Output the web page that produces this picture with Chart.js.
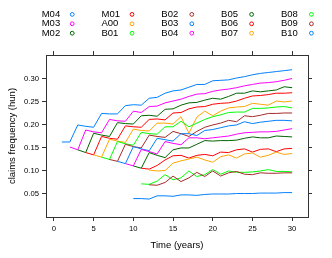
<!DOCTYPE html>
<html>
<head>
<meta charset="utf-8">
<script src="https://cdn.jsdelivr.net/npm/chart.js@4.4.0/dist/chart.umd.min.js"></script>
<style>
  html, body { margin: 0; padding: 0; background: #fff; }
  #wrap { width: 332px; height: 258px; }
</style>
</head>
<body>
<div id="wrap"><canvas id="freqChart" width="332" height="258"></canvas></div>
<script>
// bonus-malus classes, in legend order
const classes = ["M04", "M03", "M02", "M01", "A00", "B01", "B02", "B03",
                 "B04", "B05", "B06", "B07", "B08", "B09", "B10"];
// first year each class appears on the chart
const startYears = [1, 2, 3, 4, 5, 6, 7, 8, 9, 10, 11, 12, 11, 12, 10];

// claims frequency per year, from the start year up to year 30
const m04 = [0.163, 0.163, 0.200, 0.197, 0.195, 0.225, 0.224, 0.224, 0.242, 0.244, 0.243, 0.258, 0.260, 0.269, 0.274, 0.276, 0.282, 0.288, 0.288, 0.296, 0.297, 0.298, 0.302, 0.305, 0.309, 0.312, 0.314, 0.316, 0.318, 0.320];
const m03 = [0.152, 0.146, 0.189, 0.185, 0.183, 0.212, 0.209, 0.208, 0.230, 0.227, 0.240, 0.241, 0.248, 0.252, 0.256, 0.262, 0.267, 0.268, 0.273, 0.276, 0.278, 0.281, 0.285, 0.288, 0.291, 0.292, 0.294, 0.297, 0.301];
const m02 = [0.146, 0.140, 0.182, 0.178, 0.175, 0.205, 0.203, 0.202, 0.220, 0.221, 0.219, 0.234, 0.235, 0.243, 0.248, 0.249, 0.254, 0.258, 0.256, 0.262, 0.269, 0.269, 0.274, 0.272, 0.274, 0.276, 0.283, 0.281];
const m01 = [0.140, 0.135, 0.175, 0.171, 0.169, 0.198, 0.196, 0.195, 0.212, 0.213, 0.211, 0.226, 0.227, 0.235, 0.239, 0.240, 0.245, 0.247, 0.248, 0.252, 0.258, 0.263, 0.264, 0.266, 0.269, 0.269, 0.270];
const a00 = [0.135, 0.130, 0.169, 0.165, 0.162, 0.191, 0.188, 0.187, 0.204, 0.204, 0.202, 0.218, 0.182, 0.217, 0.230, 0.220, 0.230, 0.237, 0.239, 0.240, 0.247, 0.245, 0.243, 0.252, 0.250, 0.252];
const b01 = [0.130, 0.125, 0.164, 0.159, 0.156, 0.184, 0.181, 0.180, 0.196, 0.196, 0.208, 0.196, 0.204, 0.212, 0.218, 0.222, 0.227, 0.228, 0.228, 0.236, 0.236, 0.237, 0.239, 0.240, 0.237];
const b02 = [0.125, 0.121, 0.158, 0.153, 0.150, 0.178, 0.175, 0.173, 0.186, 0.181, 0.175, 0.186, 0.195, 0.200, 0.204, 0.210, 0.207, 0.220, 0.218, 0.221, 0.225, 0.225, 0.226, 0.226];
const b03 = [0.121, 0.116, 0.153, 0.148, 0.144, 0.171, 0.168, 0.165, 0.181, 0.181, 0.177, 0.188, 0.190, 0.194, 0.198, 0.200, 0.207, 0.203, 0.206, 0.208, 0.210, 0.210, 0.209];
const b04 = [0.116, 0.111, 0.147, 0.142, 0.137, 0.164, 0.160, 0.157, 0.172, 0.172, 0.170, 0.172, 0.174, 0.176, 0.180, 0.183, 0.184, 0.185, 0.185, 0.186, 0.189, 0.192];
const b05 = [0.111, 0.106, 0.140, 0.134, 0.129, 0.146, 0.150, 0.150, 0.158, 0.166, 0.165, 0.166, 0.166, 0.167, 0.171, 0.174, 0.172, 0.172, 0.176, 0.175, 0.174];
const b06 = [0.106, 0.104, 0.112, 0.124, 0.133, 0.134, 0.128, 0.134, 0.136, 0.133, 0.141, 0.140, 0.146, 0.148, 0.141, 0.147, 0.148, 0.142, 0.148, 0.149];
const b07 = [0.102, 0.100, 0.101, 0.117, 0.122, 0.126, 0.130, 0.124, 0.119, 0.131, 0.135, 0.128, 0.137, 0.139, 0.130, 0.134, 0.141, 0.136, 0.138];
const b08 = [0.072, 0.071, 0.078, 0.092, 0.081, 0.085, 0.100, 0.088, 0.092, 0.103, 0.093, 0.100, 0.097, 0.097, 0.098, 0.100, 0.103, 0.099, 0.099, 0.098];
const b09 = [0.070, 0.069, 0.075, 0.089, 0.077, 0.085, 0.097, 0.088, 0.100, 0.089, 0.096, 0.099, 0.093, 0.092, 0.096, 0.095, 0.095, 0.096, 0.096];
const b10 = [0.040, 0.040, 0.039, 0.046, 0.046, 0.045, 0.048, 0.048, 0.047, 0.049, 0.050, 0.050, 0.050, 0.051, 0.051, 0.051, 0.052, 0.052, 0.052, 0.053, 0.053];
const seriesValues = [m04, m03, m02, m01, a00, b01, b02, b03, b04, b05, b06, b07, b08, b09, b10];

const xTicks = [0, 5, 10, 15, 20, 25, 30];
const yTicks = [0.05, 0.10, 0.15, 0.20, 0.25, 0.30];

// lattice default superpose colours
const palette = ["#0080ff", "#ff00ff", "#006400", "#ff0000", "#ffa500", "#00ff00", "#a52a2a"];
const fontFamily = "'Liberation Sans', Arial, Helvetica, sans-serif";
const axisColor = "#333";

const datasets = classes.map((name, i) => ({
  label: name,
  data: seriesValues[i].map((v, k) => ({ x: startYears[i] + k, y: v })),
  borderColor: palette[i % palette.length],
  borderWidth: 1,
  pointRadius: 0,
  tension: 0,
  fill: false,
  order: classes.length - i, // later classes drawn on top
}));

// legend: 5 columns x 3 rows, label then open circle
const classLegend = {
  id: "classLegend",
  afterDraw(chart) {
    const ctx = chart.ctx;
    ctx.save();
    ctx.font = "9.5px " + fontFamily;
    ctx.textBaseline = "middle";
    ctx.textAlign = "left";
    chart.data.datasets.forEach((ds, i) => {
      const col = Math.floor(i / 3);
      const row = i % 3;
      const x = 41.7 + col * 59.8;
      const y = 14.4 + row * 9.4;
      ctx.fillStyle = "#000";
      ctx.fillText(ds.label, x, y);
      ctx.beginPath();
      ctx.arc(x + 30.5, y, 1.9, 0, Math.PI * 2);
      ctx.strokeStyle = ds.borderColor;
      ctx.lineWidth = 1;
      ctx.stroke();
    });
    ctx.restore();
  },
};

function fixedTicks(list) {
  return function (scale) {
    scale.ticks = list.map((v) => ({ value: v }));
  };
}

const tickGrid = { drawOnChartArea: false, drawTicks: true, tickLength: 4, color: axisColor, lineWidth: 1 };
const tickFont = { family: fontFamily, size: 7.7 };
const titleFont = { family: fontFamily, size: 9.5 };

new Chart(document.getElementById("freqChart").getContext("2d"), {
  type: "line",
  data: { datasets: datasets },
  options: {
    responsive: false,
    animation: false,
    devicePixelRatio: 1,
    layout: { padding: 0 },
    plugins: { legend: { display: false }, tooltip: { enabled: false } },
    scales: {
      x: {
        type: "linear",
        position: "bottom",
        min: -1,
        max: 32,
        afterBuildTicks: fixedTicks(xTicks),
        afterFit: (s) => { s.height = 41; },
        grid: tickGrid,
        border: { display: true, color: axisColor, width: 1 },
        ticks: { font: tickFont, color: "#000", padding: 3, maxRotation: 0, autoSkip: false },
        title: { display: true, text: "Time (years)", font: titleFont, color: "#000", padding: { top: 0, bottom: 7 } },
      },
      x2: {
        type: "linear",
        position: "top",
        min: -1,
        max: 32,
        afterBuildTicks: fixedTicks(xTicks),
        afterFit: (s) => { s.height = 55; },
        grid: tickGrid,
        border: { display: true, color: axisColor, width: 1 },
        ticks: { display: false },
      },
      y: {
        type: "linear",
        position: "left",
        min: 0,
        max: 0.352,
        afterBuildTicks: fixedTicks(yTicks),
        afterFit: (s) => { s.width = 46; },
        grid: tickGrid,
        border: { display: true, color: axisColor, width: 1 },
        ticks: { font: tickFont, color: "#000", padding: 3, callback: (v) => v.toFixed(2) },
        title: { display: true, text: "claims frequency (hun)", font: titleFont, color: "#000", padding: { top: 7, bottom: 0 } },
      },
      y2: {
        type: "linear",
        position: "right",
        min: 0,
        max: 0.352,
        afterBuildTicks: fixedTicks(yTicks),
        afterFit: (s) => { s.width = 24; },
        grid: tickGrid,
        border: { display: true, color: axisColor, width: 1 },
        ticks: { display: false },
      },
    },
  },
  plugins: [classLegend],
});
</script>
</body>
</html>
